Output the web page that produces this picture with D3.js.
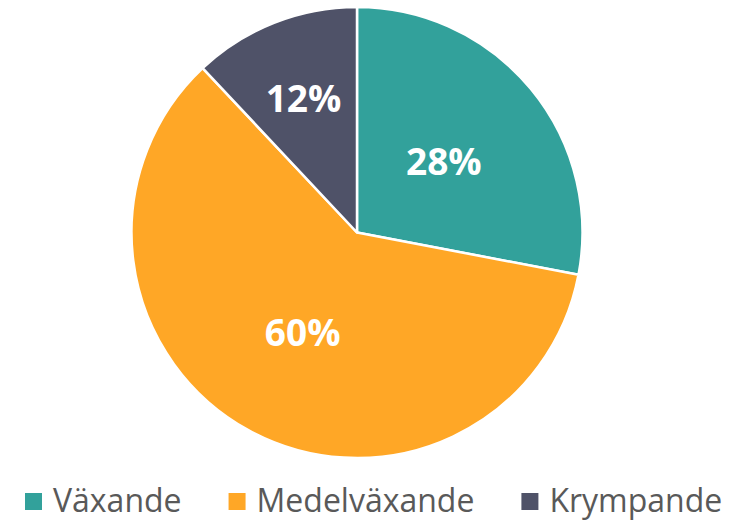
<!DOCTYPE html>
<html>
<head>
<meta charset="utf-8">
<script src="https://cdn.jsdelivr.net/npm/d3@7"></script>
<style>
  html, body { margin: 0; padding: 0; background: #fff; }
  svg { display: block; }
</style>
</head>
<body>
<svg id="chart" width="741" height="520"></svg>
<script>
const categories = ['Växande', 'Medelväxande', 'Krympande'];
const shares = [28, 60, 12];
const colors = ['#32A19B', '#FFA726', '#4F5268'];

const width = 741, height = 520;
const cx = 357, cy = 232.5, radius = 225.5;

const svg = d3.select('#chart');
const g = svg.append('g').attr('transform', `translate(${cx},${cy})`);

const data = categories.map((c, i) => ({ name: c, value: shares[i], color: colors[i] }));

const pie = d3.pie().sort(null).value(d => d.value);
const arcs = pie(data);
const arc = d3.arc().innerRadius(0).outerRadius(radius);

g.selectAll('path.slice')
  .data(arcs)
  .enter()
  .append('path')
  .attr('class', 'slice')
  .attr('d', arc)
  .attr('fill', d => d.data.color)
  .attr('stroke', '#fff')
  .attr('stroke-width', 2.5)
  .attr('stroke-linejoin', 'round');

// small slices get their label pushed further out (excel best fit)
const labelPos = d => {
  const span = d.endAngle - d.startAngle;
  const r = span < 1 ? radius * 0.645 : radius * 0.5;
  return d3.arc().innerRadius(r).outerRadius(r).centroid(d);
};

g.selectAll('text.pct')
  .data(arcs)
  .enter()
  .append('text')
  .attr('class', 'pct')
  .attr('x', d => labelPos(d)[0])
  .attr('y', d => labelPos(d)[1])
  .attr('text-anchor', 'middle')
  .attr('dominant-baseline', 'central')
  .attr('fill', '#fff')
  .style('font-family', '"Open Sans", sans-serif')
  .style('font-weight', 'bold')
  .style('font-size', '37px')
  .text(d => `${d.data.value}%`);

// legend - lay items out one after another by measured text width
const legend = svg.append('g').attr('class', 'legend');
const items = legend.selectAll('g.item')
  .data(data)
  .enter()
  .append('g')
  .attr('class', 'item');

items.append('rect')
  .attr('width', 17)
  .attr('height', 17)
  .attr('fill', d => d.color);

items.append('text')
  .attr('x', 28)
  .attr('y', 18.5)
  .attr('fill', '#595959')
  .style('font-family', '"Open Sans", sans-serif')
  .style('font-size', '32px')
  .text(d => d.name);

let xPos = 25;
items.each(function () {
  const item = d3.select(this);
  item.attr('transform', `translate(${xPos},493)`);
  const w = item.select('text').node().getComputedTextLength();
  xPos += 28 + w + 47;
});
</script>
</body>
</html>
